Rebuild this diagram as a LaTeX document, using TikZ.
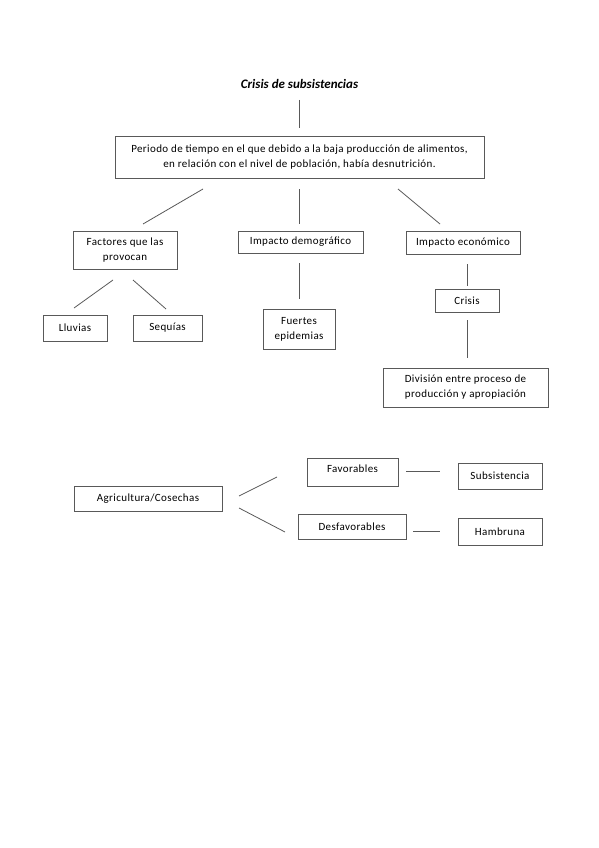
\documentclass[tikz,border=0pt]{standalone}
\usepackage{fontspec}
\setmainfont{Carlito}
\newfontfamily\spacedfont[LetterSpace=3.5]{Carlito}
\begin{document}
\begin{tikzpicture}[x=1pt,y=-1pt,
  bx/.style={draw=black!65,line width=0.8pt,inner sep=0pt,align=center,font=\spacedfont\fontsize{11}{15}\selectfont},
  ln/.style={draw=black!65,line width=0.8pt},
  ttl/.style={font=\fontsize{13}{15}\selectfont\bfseries\itshape}]
\useasboundingbox (0,0) rectangle (599,848);
% title
\node[ttl] (title) at (299.5,84) {Crisis de subsistencias};
\coordinate (t1) at (299,100); \coordinate (t2) at (299,128);
\draw[ln] (t1) -- (t2);
% main box
\node[bx,minimum width=369pt,minimum height=42pt] (main) at (299.5,157) {Periodo de tiempo en el que debido a la baja producción de alimentos,\\en relación con el nivel de población, había desnutrición.};
% level 2
\node[bx,minimum width=104pt,minimum height=38pt] (fac) at (125,250) {Factores que las\\provocan};
\node[bx,minimum width=125pt,minimum height=22pt] (dem) at (300.5,242) {Impacto demográfico};
\node[bx,minimum width=114pt,minimum height=23pt] (eco) at (463,242.5) {Impacto económico};
\coordinate (a1) at (203,189); \coordinate (a2) at (143,224);
\coordinate (b1) at (299,189); \coordinate (b2) at (299,224);
\coordinate (c1) at (398,189); \coordinate (c2) at (440,224);
\draw[ln] (a1) -- (a2);
\draw[ln] (b1) -- (b2);
\draw[ln] (c1) -- (c2);
% level 3
\node[bx,minimum width=64pt,minimum height=26pt] (llu) at (75,328) {Lluvias};
\node[bx,minimum width=69pt,minimum height=26pt] (seq) at (167.5,328) {Sequías};
\coordinate (d1) at (113,280); \coordinate (d2) at (74,308);
\coordinate (e1) at (133,280); \coordinate (e2) at (166,309);
\draw[ln] (d1) -- (d2);
\draw[ln] (e1) -- (e2);
\node[bx,minimum width=72pt,minimum height=40pt] (fue) at (299,329) {Fuertes\\epidemias};
\coordinate (f1) at (299,263); \coordinate (f2) at (299,299);
\draw[ln] (f1) -- (f2);
\node[bx,minimum width=64pt,minimum height=23pt] (cri) at (467,300.5) {Crisis};
\coordinate (g1) at (467,264); \coordinate (g2) at (467,286);
\draw[ln] (g1) -- (g2);
\node[bx,minimum width=165pt,minimum height=39pt] (div) at (465.5,387.5) {División entre proceso de\\producción y apropiación};
\coordinate (h1) at (467,320); \coordinate (h2) at (467,358);
\draw[ln] (h1) -- (h2);
% bottom
\node[bx,minimum width=148pt,minimum height=25pt] (agr) at (148,498.5) {Agricultura/Cosechas};
\node[bx,minimum width=91pt,minimum height=28pt,text depth=6pt] (fav) at (352.5,472) {Favorables};
\node[bx,minimum width=108pt,minimum height=25pt] (des) at (352,526.5) {Desfavorables};
\node[bx,minimum width=84pt,minimum height=26pt] (sub) at (500,476) {Subsistencia};
\node[bx,minimum width=84pt,minimum height=27pt] (ham) at (500,531.5) {Hambruna};
\coordinate (i1) at (239,496); \coordinate (i2) at (277,477);
\coordinate (j1) at (239,508); \coordinate (j2) at (285,532);
\coordinate (k1) at (406,471); \coordinate (k2) at (440,471);
\coordinate (l1) at (413,531); \coordinate (l2) at (440,531);
\draw[ln] (i1) -- (i2);
\draw[ln] (j1) -- (j2);
\draw[ln] (k1) -- (k2);
\draw[ln] (l1) -- (l2);
\end{tikzpicture}
\end{document}
